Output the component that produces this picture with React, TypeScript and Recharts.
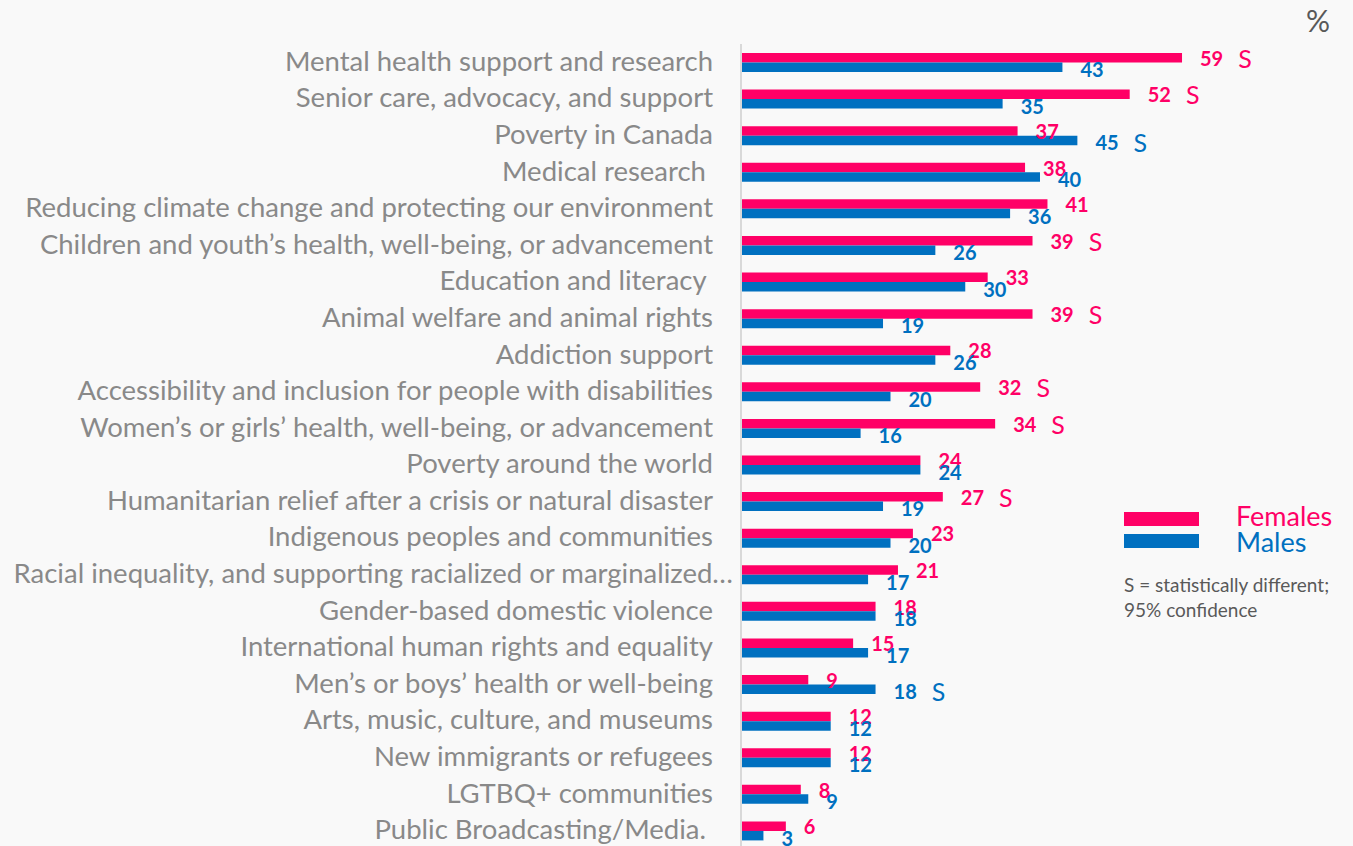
import React from "react";
import { BarChart, Bar, XAxis, YAxis, LabelList } from "recharts";

const categories = [
  "Mental health support and research",
  "Senior care, advocacy, and support",
  "Poverty in Canada",
  "Medical research ",
  "Reducing climate change and protecting our environment",
  "Children and youth’s health, well-being, or advancement",
  "Education and literacy ",
  "Animal welfare and animal rights",
  "Addiction support",
  "Accessibility and inclusion for people with disabilities",
  "Women’s or girls’ health, well-being, or advancement",
  "Poverty around the world",
  "Humanitarian relief after a crisis or natural disaster",
  "Indigenous peoples and communities",
  "Racial inequality, and supporting racialized or marginalized…",
  "Gender-based domestic violence",
  "International human rights and equality",
  "Men’s or boys’ health or well-being",
  "Arts, music, culture, and museums",
  "New immigrants or refugees",
  "LGTBQ+ communities",
  "Public Broadcasting/Media. ",
];

const females = [59, 52, 37, 38, 41, 39, 33, 39, 28, 32, 34, 24, 27, 23, 21, 18, 15, 9, 12, 12, 8, 6];
const males = [43, 35, 45, 40, 36, 26, 30, 19, 26, 20, 16, 24, 19, 20, 17, 18, 17, 18, 12, 12, 9, 3];

// "S" = statistically different (95% confidence)
const femaleSig = [true, true, false, false, false, true, false, true, false, true, true, false, true, false, false, false, false, false, false, false, false, false];
const maleSig = [false, false, true, false, false, false, false, false, false, false, false, false, false, false, false, false, false, true, false, false, false, false];

const PINK = "#FF0066";
const BLUE = "#0070C0";
const FONT = "Lato, 'Open Sans', sans-serif";

const data = categories.map((name, i) => ({
  name,
  females: females[i],
  males: males[i],
}));

const valueLabel = (color: string, sig: boolean[], dy: number) => (props: any) => {
  const { x, y, width, height, value, index } = props;
  return (
    <text
      x={Number(x) + Number(width) + 18}
      y={Number(y) + Number(height) / 2 + dy}
      fill={color}
      fontFamily={FONT}
      dominantBaseline="central"
    >
      <tspan fontWeight={700} fontSize={20}>{value}</tspan>
      {sig[index] && (
        <tspan dx={15} fontSize={25} fontWeight={400}>
          S
        </tspan>
      )}
    </text>
  );
};

const CategoryTick = (props: any) => {
  const { x, y, payload } = props;
  const label: string = payload.value;
  // the truncated label runs past the usual right edge
  const shift = label.endsWith("…") ? 20 : 0;
  return (
    <text
      x={x - 28 + shift}
      y={y - 2}
      textAnchor="end"
      dominantBaseline="central"
      fill="#898989"
      fontFamily={FONT}
      fontSize={27.5}
      style={{ whiteSpace: "pre" }}
    >
      {label}
    </text>
  );
};

export default function App() {
  return (
    <div
      style={{
        position: "absolute",
        left: 0,
        top: 0,
        width: 1353,
        height: 846,
        overflow: "hidden",
        background: "#F9F9F9",
        fontFamily: FONT,
      }}
    >
      <BarChart
        width={1353}
        height={849}
        data={data}
        layout="vertical"
        margin={{ top: 44, right: 14, left: 0, bottom: 0 }}
        barGap={0}
      >
        <XAxis type="number" domain={[0, 80]} hide />
        <YAxis
          type="category"
          dataKey="name"
          width={741}
          axisLine={{ stroke: "#D9D9D9", strokeWidth: 2 }}
          tickLine={false}
          tickSize={0}
          tickMargin={0}
          interval={0}
          tick={<CategoryTick />}
        />
        <Bar dataKey="females" fill={PINK} barSize={9.5} isAnimationActive={false}>
          <LabelList dataKey="females" content={valueLabel(PINK, femaleSig, 0)} />
        </Bar>
        <Bar dataKey="males" fill={BLUE} barSize={9.5} isAnimationActive={false}>
          <LabelList dataKey="males" content={valueLabel(BLUE, maleSig, 2)} />
        </Bar>
      </BarChart>

      <div style={{ position: "absolute", left: 1306, top: 2, fontSize: 30, color: "#595959" }}>%</div>

      <div style={{ position: "absolute", left: 1124, top: 512, width: 75, height: 14, background: PINK }} />
      <div style={{ position: "absolute", left: 1124, top: 534, width: 75, height: 14, background: BLUE }} />
      <div style={{ position: "absolute", left: 1236, top: 501, fontSize: 27, color: PINK, lineHeight: "30px" }}>
        Females
      </div>
      <div style={{ position: "absolute", left: 1236, top: 527, fontSize: 27, color: BLUE, lineHeight: "30px" }}>
        Males
      </div>
      <div
        style={{
          position: "absolute",
          left: 1124,
          top: 572,
          fontSize: 19,
          color: "#595959",
          lineHeight: "25px",
        }}
      >
        S = statistically different;
        <br />
        95% confidence
      </div>
    </div>
  );
}
